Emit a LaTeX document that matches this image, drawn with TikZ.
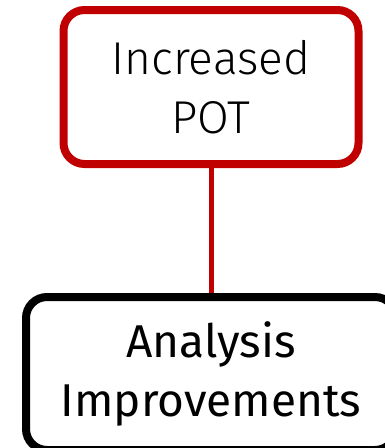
\documentclass[tikz,border=0pt]{standalone}
\usepackage{fontspec}
\setmainfont{Fira Sans}
\newfontfamily\lightfont{Fira Sans Light}
\usetikzlibrary{positioning}
\definecolor{potred}{HTML}{C00000}
\tikzstyle{goal} = [rectangle, rounded corners=21pt, minimum width=295pt, minimum height=154pt, text centered, align=center, draw=potred, line width=8pt, font=\lightfont\fontsize{46}{59}\selectfont]
\tikzstyle{task} = [rectangle, rounded corners=21pt, minimum width=370pt, minimum height=153pt, text centered, align=center, draw=black, line width=8pt, font=\fontsize{46}{59}\selectfont]
\tikzstyle{link} = [potred, line width=5pt]

\begin{document}
\begin{tikzpicture}[x=1pt, y=1pt]
  \useasboundingbox (0,0) rectangle (385,-448);
  \node (pot) [goal] at (211,-87) {Increased\\POT};
  \node (ana) [task, below=125pt of pot] {Analysis\\Improvements};

  \draw [link] (pot) -- (ana);
\end{tikzpicture}
\end{document}
